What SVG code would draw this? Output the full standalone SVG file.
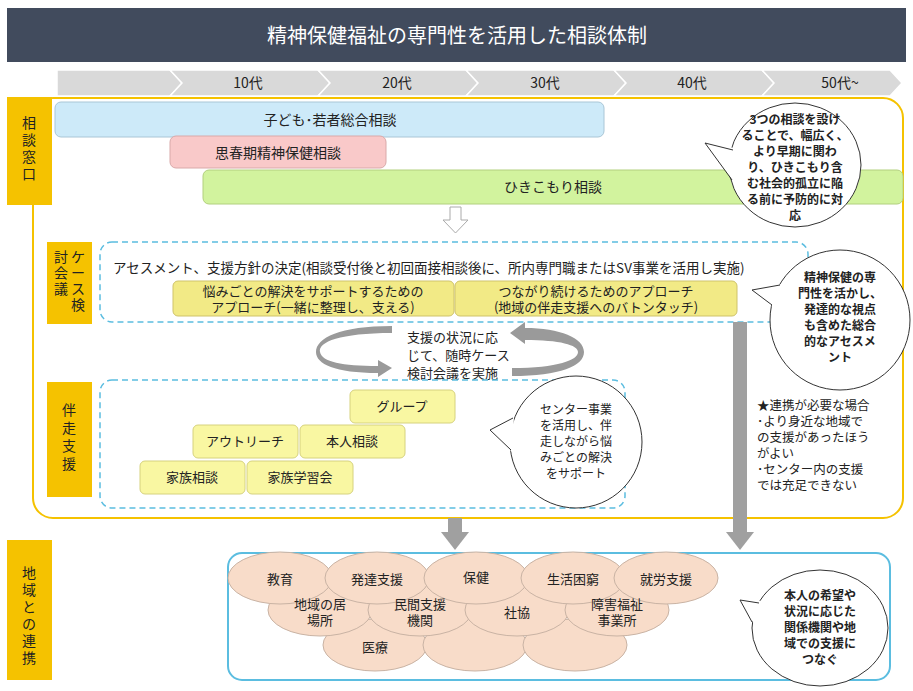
<svg xmlns="http://www.w3.org/2000/svg" width="913" height="691" viewBox="0 0 913 691">
<style>
text{font-family:"Noto Sans CJK JP","Noto Sans",sans-serif;fill:#222}
.lab{fill:#f5c200}
.lt{font-size:14px;text-anchor:middle}
.yb{fill:#f2ea86;stroke:#cfc36a;stroke-width:1}
.gb{fill:#f9f7a2;stroke:#d6d27e;stroke-width:1}
.dash{fill:none;stroke:#5bbde0;stroke-width:1.5;stroke-dasharray:6 4}
.ov{fill:#f8dcc9;stroke:#c9b3a4;stroke-width:1}
.call{fill:#fff;stroke:#333;stroke-width:1}
.tail{fill:#fff;stroke:none}
.tl{fill:none;stroke:#333;stroke-width:1}
.ct{font-size:12px;text-anchor:middle}
.t13{font-size:13px;text-anchor:middle}
</style>
<rect width="913" height="691" fill="#fff"/>
<g id="title"><rect x="7" y="8" width="899" height="54" fill="#414b5d"/><text x="457" y="43" style="font-size:20px;fill:#fff;text-anchor:middle">精神保健福祉の専門性を活用した相談体制</text></g>
<g id="timeline" fill="#d9d9d9" stroke="#fff" stroke-width="1.5">
<path d="M57 70H170L182 83L170 96H57Z"/>
<path d="M170 70H318L330 83L318 96H170L182 83Z"/>
<path d="M318 70H466L478 83L466 96H318L330 83Z"/>
<path d="M466 70H614L626 83L614 96H466L478 83Z"/>
<path d="M614 70H762L774 83L762 96H614L626 83Z"/>
<path d="M762 70H890L902 83L890 96H762L774 83Z"/>
</g>
<g id="timelabels" style="font-size:14px;text-anchor:middle">
<text x="248" y="88">10代</text><text x="397" y="88">20代</text><text x="545" y="88">30代</text><text x="692" y="88">40代</text><text x="840" y="88">50代~</text></g>
<g id="outer"><rect x="33" y="98" width="870" height="420" rx="20" fill="none" stroke="#f5c200" stroke-width="2"/></g>
<g id="labels">
<rect class="lab" x="7" y="97" width="45" height="108"/><text class="lt" x="29"><tspan x="29" y="128">相</tspan><tspan x="29" y="145">談</tspan><tspan x="29" y="162">窓</tspan><tspan x="29" y="179">口</tspan></text>
<rect class="lab" x="47" y="242" width="45" height="82"/><text class="lt"><tspan x="78" y="262">ケ</tspan><tspan x="78" y="278">ー</tspan><tspan x="78" y="294">ス</tspan><tspan x="78" y="310">検</tspan><tspan x="61" y="262">討</tspan><tspan x="61" y="278">会</tspan><tspan x="61" y="294">議</tspan></text>
<rect class="lab" x="47" y="382" width="45" height="115"/><text class="lt"><tspan x="69" y="415">伴</tspan><tspan x="69" y="433">走</tspan><tspan x="69" y="451">支</tspan><tspan x="69" y="469">援</tspan></text>
<rect class="lab" x="7" y="540" width="45" height="140"/><text class="lt"><tspan x="29" y="578">地</tspan><tspan x="29" y="595">域</tspan><tspan x="29" y="612">と</tspan><tspan x="29" y="629">の</tspan><tspan x="29" y="646">連</tspan><tspan x="29" y="663">携</tspan></text>
</g>
<g id="soudan">
<rect x="55" y="102" width="549" height="35" rx="6" fill="#cdeaf9" stroke="#a9c6d6"/><text x="330" y="125" class="lt">子ども･若者総合相談</text>
<rect x="170" y="136" width="216" height="32" rx="6" fill="#f9c9c9" stroke="#d9a9a9"/><text x="278" y="158" class="lt">思春期精神保健相談</text>
<rect x="203" y="170" width="700" height="34" rx="6" fill="#d2f39e" stroke="#b2d07e"/><text x="553" y="192" class="lt">ひきこもり相談</text>
</g>
<g id="callout1"><ellipse class="call" cx="795" cy="165" rx="66" ry="62"/><path class="tail" d="M705 143L734 148L734 182Z"/><path class="tl" d="M733 150L705 143L732 180"/>
<text class="ct" style="font-weight:bold"><tspan x="795" y="124">3つの相談を設け</tspan><tspan x="795" y="140">ることで、幅広く、</tspan><tspan x="795" y="156">より早期に関わ</tspan><tspan x="795" y="172">り、ひきこもり含</tspan><tspan x="795" y="188">む社会的孤立に陥</tspan><tspan x="795" y="204">る前に予防的に対</tspan><tspan x="795" y="220">応</tspan></text></g>
<g id="hollowArrow"><path d="M450 207H461V220H468L455.5 233L443 220H450Z" fill="#fff" stroke="#aaa"/></g>
<g id="case">
<rect class="dash" x="100" y="242" width="708" height="80" rx="12"/>
<text x="113" y="273" style="font-size:13.5px">アセスメント、支援方針の決定(相談受付後と初回面接相談後に、所内専門職またはSV事業を活用し実施)</text>
<rect class="yb" x="173" y="281" width="281" height="35" rx="5"/><text class="t13"><tspan x="313" y="296">悩みごとの解決をサポートするための</tspan><tspan x="313" y="312">アプローチ(一緒に整理し、支える)</tspan></text>
<rect class="yb" x="455" y="281" width="282" height="35" rx="5"/><text class="t13"><tspan x="596" y="296">つながり続けるためのアプローチ</tspan><tspan x="596" y="312">(地域の伴走支援へのバトンタッチ)</tspan></text>
</g>
<g id="callout2"><ellipse class="call" cx="840" cy="320" rx="70" ry="70"/><path class="tail" d="M752 290L782 284L774 307Z"/><path class="tl" d="M780 285L752 290L772 305"/>
<text class="ct" style="font-weight:bold"><tspan x="840" y="282">精神保健の専</tspan><tspan x="840" y="298">門性を活かし、</tspan><tspan x="840" y="314">発達的な視点</tspan><tspan x="840" y="330">も含めた総合</tspan><tspan x="840" y="346">的なアセスメ</tspan><tspan x="840" y="362">ント</tspan></text></g>
<g id="connectors">
<g id="cycle" fill="#9a9a9a">
<path d="M392 333C340 333 318 342 320 352C322 362 342 366 378 366L378 360L392 368L378 377L378 373C335 373 316 364 316 352C316 338 340 326 392 326Z"/>
<path d="M512 376C560 376 584 366 584 352C584 338 560 328 525 328L525 322L510 333L525 344L525 340C560 340 578 345 578 352C578 360 558 368 512 368Z"/>
</g>
<rect x="733" y="322" width="14" height="212" fill="#a0a0a0"/><path d="M726 532H754L740 550Z" fill="#a0a0a0"/>
<rect x="448" y="518" width="14" height="16" fill="#a0a0a0"/><path d="M441 532H469L455 550Z" fill="#a0a0a0"/>
</g>
<text class="t13" style="text-anchor:start"><tspan x="407" y="342">支援の状況に応</tspan><tspan x="407" y="360">じて、随時ケース</tspan><tspan x="407" y="378">検討会議を実施</tspan></text>
<g id="bansou">
<rect class="dash" x="100" y="380" width="525" height="128" rx="12"/>
<rect class="gb" x="350" y="390" width="105" height="33" rx="5"/><text class="t13" x="402" y="411">グループ</text>
<rect class="gb" x="193" y="425" width="105" height="33" rx="5"/><text class="t13" x="245" y="446">アウトリーチ</text>
<rect class="gb" x="300" y="425" width="105" height="33" rx="5"/><text class="t13" x="352" y="446">本人相談</text>
<rect class="gb" x="140" y="461" width="105" height="33" rx="5"/><text class="t13" x="192" y="482">家族相談</text>
<rect class="gb" x="247" y="461" width="106" height="33" rx="5"/><text class="t13" x="300" y="482">家族学習会</text>
</g>
<g id="callout3"><ellipse class="call" cx="576" cy="442" rx="66" ry="66"/><path class="tail" d="M490 430L514 416L512 452Z"/><path class="tl" d="M513 418L490 430L511 450"/>
<text class="ct"><tspan x="576" y="414">センター事業</tspan><tspan x="576" y="430">を活用し、伴</tspan><tspan x="576" y="446">走しながら悩</tspan><tspan x="576" y="462">みごとの解決</tspan><tspan x="576" y="478">をサポート</tspan></text></g>
<text id="note" style="font-size:12.5px"><tspan x="757" y="410">★連携が必要な場合</tspan><tspan x="757" y="426">･より身近な地域で</tspan><tspan x="757" y="442">の支援があったほう</tspan><tspan x="757" y="458">がよい</tspan><tspan x="757" y="474">･センター内の支援</tspan><tspan x="757" y="490">では充足できない</tspan></text>
<g id="chiiki">
<rect x="228" y="553" width="662" height="127" rx="14" fill="#fff" stroke="#5bbde0" stroke-width="2"/>
<ellipse class="ov" cx="375" cy="645" rx="52" ry="26"/><ellipse class="ov" cx="475" cy="645" rx="52" ry="26"/><ellipse class="ov" cx="575" cy="645" rx="52" ry="26"/>
<ellipse class="ov" cx="320" cy="610" rx="52" ry="26"/><ellipse class="ov" cx="420" cy="610" rx="52" ry="26"/><ellipse class="ov" cx="517" cy="610" rx="52" ry="26"/><ellipse class="ov" cx="617" cy="610" rx="52" ry="26"/>
<ellipse class="ov" cx="280" cy="578" rx="52" ry="26"/><ellipse class="ov" cx="377" cy="578" rx="52" ry="26"/><ellipse class="ov" cx="476" cy="578" rx="52" ry="26"/><ellipse class="ov" cx="573" cy="578" rx="52" ry="26"/><ellipse class="ov" cx="666" cy="578" rx="52" ry="26"/>
<g class="t13"><text x="280" y="584">教育</text><text x="377" y="584">発達支援</text><text x="476" y="582">保健</text><text x="573" y="584">生活困窮</text><text x="666" y="584">就労支援</text>
<text x="320" y="609">地域の居</text><text x="320" y="625">場所</text><text x="420" y="609">民間支援</text><text x="420" y="625">機関</text><text x="517" y="617">社協</text><text x="617" y="609">障害福祉</text><text x="617" y="625">事業所</text>
<text x="375" y="652">医療</text></g>
</g>
<g id="callout4"><ellipse class="call" cx="820" cy="628" rx="68" ry="58"/><path class="tail" d="M740 600L761 601L754 624Z"/><path class="tl" d="M759 603L740 600L752 622"/>
<text class="ct" style="font-weight:bold"><tspan x="820" y="600">本人の希望や</tspan><tspan x="820" y="616">状況に応じた</tspan><tspan x="820" y="632">関係機関や地</tspan><tspan x="820" y="648">域での支援に</tspan><tspan x="820" y="664">つなぐ</tspan></text></g>
</svg>
